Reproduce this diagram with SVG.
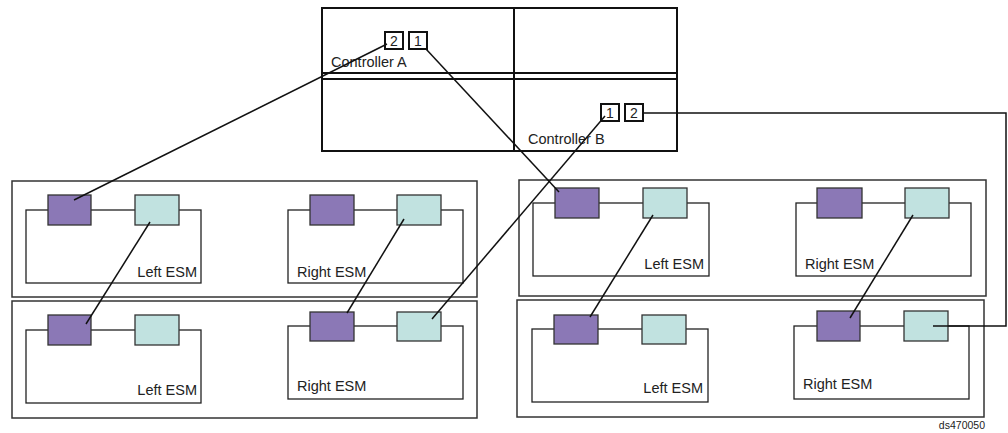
<svg xmlns="http://www.w3.org/2000/svg" width="1008" height="433" viewBox="0 0 1008 433">
<style>
text{font-family:"Liberation Sans",Arial,sans-serif;fill:#222}
.lbl{font-size:14.5px}
.ctl{fill:none;stroke:#111;stroke-width:2}
.port{fill:#fff;stroke:#111;stroke-width:2}
.pt{font-size:14px;text-anchor:middle}
.tray{fill:none;stroke:#333;stroke-width:1.5}
.esm{fill:none;stroke:#222;stroke-width:1.3}
.p{fill:#8b78b6;stroke:#333;stroke-width:1.3}
.c{fill:#c1e2e0;stroke:#333;stroke-width:1.3}
.con{fill:none;stroke:#111;stroke-width:1.5}
</style>
<rect width="1008" height="433" fill="#fff"/>
<g id="controllers">
<rect class="ctl" x="322" y="8" width="355" height="143"/>
<line class="ctl" x1="514" y1="8" x2="514" y2="151"/>
<line class="ctl" x1="322" y1="73" x2="677" y2="73"/>
<line class="ctl" x1="322" y1="79" x2="677" y2="79"/>
<text class="lbl" x="331" y="67">Controller A</text>
<text class="lbl" x="528" y="144">Controller B</text>
<rect class="port" x="385" y="32" width="18" height="17"/>
<text class="pt" x="394" y="46">2</text>
<rect class="port" x="409" y="32" width="18" height="17"/>
<text class="pt" x="418" y="46">1</text>
<rect class="port" x="601" y="104" width="18" height="17"/>
<text class="pt" x="610" y="118">1</text>
<rect class="port" x="625" y="104" width="18" height="17"/>
<text class="pt" x="634" y="118">2</text>
</g>
<g id="tray-left-top">
<rect class="tray" x="12" y="181" width="465" height="116"/>
<rect class="esm" x="26" y="210" width="175" height="73"/>
<rect class="p" x="48" y="195" width="43" height="30"/>
<rect class="c" x="135" y="195" width="44" height="30"/>
<text class="lbl" x="197" y="277" text-anchor="end">Left ESM</text>
<rect class="esm" x="288" y="210" width="175" height="73"/>
<rect class="p" x="310" y="195" width="44" height="30"/>
<rect class="c" x="397" y="195" width="44" height="30"/>
<text class="lbl" x="297" y="277">Right ESM</text>
</g>
<g id="tray-left-bottom">
<rect class="tray" x="12" y="301" width="465" height="117"/>
<rect class="esm" x="26" y="330" width="175" height="73"/>
<rect class="p" x="48" y="315" width="43" height="30"/>
<rect class="c" x="135" y="315" width="44" height="30"/>
<text class="lbl" x="197" y="395" text-anchor="end">Left ESM</text>
<rect class="esm" x="288" y="326" width="175" height="73"/>
<rect class="p" x="310" y="312" width="44" height="29"/>
<rect class="c" x="397" y="312" width="44" height="29"/>
<text class="lbl" x="297" y="391">Right ESM</text>
</g>
<g id="tray-right-top">
<rect class="tray" x="519" y="180" width="467" height="116"/>
<rect class="esm" x="533" y="203" width="176" height="73"/>
<rect class="p" x="555" y="188" width="44" height="30"/>
<rect class="c" x="643" y="188" width="44" height="30"/>
<text class="lbl" x="704" y="269" text-anchor="end">Left ESM</text>
<rect class="esm" x="796" y="203" width="175" height="73"/>
<rect class="p" x="817" y="188" width="45" height="30"/>
<rect class="c" x="905" y="188" width="44" height="30"/>
<text class="lbl" x="805" y="269">Right ESM</text>
</g>
<g id="tray-right-bottom">
<rect class="tray" x="517" y="300" width="467" height="117"/>
<rect class="esm" x="532" y="329" width="176" height="73"/>
<rect class="p" x="554" y="315" width="44" height="29"/>
<rect class="c" x="642" y="315" width="44" height="29"/>
<text class="lbl" x="703" y="393" text-anchor="end">Left ESM</text>
<rect class="esm" x="794" y="326" width="175" height="73"/>
<rect class="p" x="817" y="311" width="43" height="30"/>
<rect class="c" x="904" y="311" width="44" height="30"/>
<text class="lbl" x="803" y="389">Right ESM</text>
</g>
<g id="connectors">
<line class="con" x1="387" y1="44" x2="74" y2="200"/>
<line class="con" x1="426" y1="49" x2="559" y2="192"/>
<line class="con" x1="605" y1="116" x2="432" y2="319"/>
<polyline class="con" points="643,113 1006,113 1006,326 933,326"/>
<line class="con" x1="150" y1="222" x2="86" y2="324"/>
<line class="con" x1="404" y1="219" x2="347" y2="313"/>
<line class="con" x1="653" y1="215" x2="590" y2="317"/>
<line class="con" x1="913" y1="215" x2="850" y2="318"/>
</g>
<text x="985" y="429" font-size="10.5" text-anchor="end">ds470050</text>
</svg>
